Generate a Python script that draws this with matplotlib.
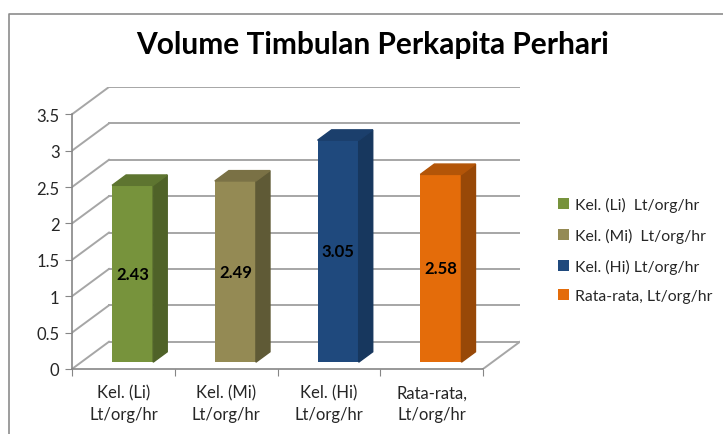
import matplotlib.pyplot as plt
from matplotlib.patches import Polygon, Patch
from matplotlib.lines import Line2D
import numpy as np

plt.rcParams['font.family'] = ['Lato', 'DejaVu Sans']

categories = ['Kel. (Li)\nLt/org/hr', 'Kel. (Mi)\nLt/org/hr', 'Kel. (Hi)\nLt/org/hr', 'Rata-rata,\nLt/org/hr']
legend_labels = ['Kel. (Li)  Lt/org/hr', 'Kel. (Mi)  Lt/org/hr', 'Kel. (Hi) Lt/org/hr', 'Rata-rata, Lt/org/hr']
values = [2.43, 2.49, 3.05, 2.58]
front_colors = ['#77933C', '#948A54', '#1F497D', '#E46C0A']
side_colors = ['#4F6228', '#5F5A36', '#17375E', '#984807']
top_colors = ['#5E7530', '#7A7145', '#1B3F6C', '#B35508']
yticks = [0, 0.5, 1, 1.5, 2, 2.5, 3, 3.5]

# fake 3d: depth offset of the back wall (data units)
DX, DY = 0.36, 0.375
d1, d2 = 0.25, 0.63   # bar front / back depth fraction
bw = 0.40

fig = plt.figure(figsize=(7.23, 4.35), dpi=100)
ax = fig.add_axes([72/723, 1-370/435, 448/723, 282/435])
ax.set_xlim(0, 4 + DX)
ax.set_ylim(0, 3.5 + DY)
ax.patch.set_alpha(0)

grid_c = '#A6A6A6'
# floor + walls
for v in yticks:
    if v > 0:
        ax.plot([DX, 4 + DX], [v + DY, v + DY], color=grid_c, lw=1.4, zorder=1)
    ax.plot([0, DX], [v, v + DY], color=grid_c, lw=1.4, zorder=1)
ax.plot([DX, 4 + DX], [DY, DY], color=grid_c, lw=1.4, zorder=1)
ax.plot([4, 4 + DX], [0, DY], color=grid_c, lw=1.4, zorder=1)

# bars
x = np.arange(4) + 0.5 + DX * d1
base = DY * d1
ax.bar(x, values, width=bw, bottom=base, color=front_colors, zorder=3)
ddx, ddy = DX * (d2 - d1), DY * (d2 - d1)
for i, v in enumerate(values):
    xl, xr = x[i] - bw/2, x[i] + bw/2
    top = base + v
    ax.add_patch(Polygon([(xr, base), (xr + ddx, base + ddy), (xr + ddx, top + ddy), (xr, top)],
                         closed=True, color=side_colors[i], zorder=3))
    ax.add_patch(Polygon([(xl, top), (xr, top), (xr + ddx, top + ddy), (xl + ddx, top + ddy)],
                         closed=True, color=top_colors[i], zorder=3))
    ax.text(x[i], base + v/2, f'{v:.2f}', ha='center', va='center',
            fontsize=12, fontweight='bold', color='black', zorder=4)

for s in ['top', 'right']:
    ax.spines[s].set_visible(False)
ax.spines['left'].set_bounds(0, 3.5)
ax.spines['bottom'].set_bounds(0, 4)
for s in ['left', 'bottom']:
    ax.spines[s].set_color('#868686')
    ax.spines[s].set_linewidth(1.2)

ax.set_yticks(yticks)
ax.set_yticklabels([f'{t:g}' for t in yticks], fontsize=12, color='#262626')
ax.tick_params(axis='y', length=5, color='#868686', pad=4)
ax.set_xticks(np.arange(5))
ax.set_xticklabels([])
ax.tick_params(axis='x', length=5, color='#868686')
ax.set_xticks(np.arange(4) + 0.5, minor=True)
ax.set_xticklabels(categories, minor=True, fontsize=12, color='#262626', linespacing=1.45)
ax.tick_params(axis='x', which='minor', length=0, pad=11)

fig.text(373/723, 1 - 45/435, 'Volume Timbulan Perkapita Perhari', ha='center', va='center',
         fontsize=21.5, fontweight='bold', color='black')

handles = [Patch(facecolor=c, edgecolor='none') for c in front_colors]
fig.legend(handles, legend_labels, loc='upper left', bbox_to_anchor=(544/723, 1 - 184/435),
           frameon=False, fontsize=11.3, labelspacing=1.0, handlelength=0.7, handleheight=0.7,
           handletextpad=0.35, labelcolor='#262626')

# chart border (cropped)
fig.add_artist(Line2D([9/723, 9/723, 1], [0, 1 - 15/435, 1 - 15/435], color='#8C8C8C', lw=1.2))

fig.savefig('out.png', dpi=100)
